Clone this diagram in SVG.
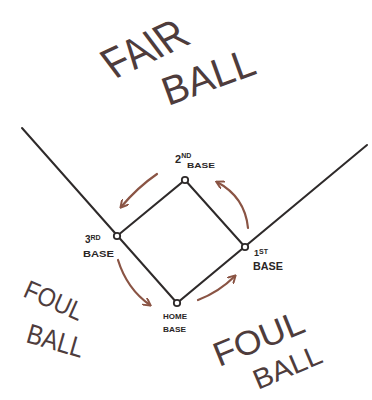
<svg xmlns="http://www.w3.org/2000/svg" width="372" height="400" viewBox="0 0 372 400">
<style>
.line{stroke:#2e2a2a;stroke-width:2;fill:none;stroke-linecap:round}
.arr{stroke:#8a5444;stroke-width:2.2;fill:none;stroke-linecap:round}
.base{fill:#fff;stroke:#2e2a2a;stroke-width:1.8}
.big{font-family:"Liberation Sans",Arial,sans-serif;fill:#4e3c3c}
.lab{font-family:"Liberation Sans",Arial,sans-serif;font-weight:bold;fill:#2a2626}
</style>
<defs>
<marker id="ah" viewBox="0 0 10 10" refX="8" refY="5" markerWidth="4" markerHeight="4" orient="auto" markerUnits="strokeWidth">
<path d="M0,0 L9,5 L0,10" fill="none" stroke="#8a5444" stroke-width="2.2"/>
</marker>
</defs>
<rect width="372" height="400" fill="#fff"/>
<g id="field-labels">
<text class="big" font-size="44" textLength="86" lengthAdjust="spacingAndGlyphs" transform="translate(115,79) rotate(-25) skewX(12)">FAIR</text>
<text class="big" font-size="40" textLength="96" lengthAdjust="spacingAndGlyphs" transform="translate(168,106) rotate(-20)">BALL</text>
<text class="big" font-size="26" textLength="62" lengthAdjust="spacingAndGlyphs" transform="translate(22,296) rotate(24)">FOUL</text>
<text class="big" font-size="28" textLength="58" lengthAdjust="spacingAndGlyphs" transform="translate(25,342) rotate(16)">BALL</text>
<text class="big" font-size="34" textLength="95" lengthAdjust="spacingAndGlyphs" transform="translate(219,367) rotate(-22)">FOUL</text>
<text class="big" font-size="28" textLength="72" lengthAdjust="spacingAndGlyphs" transform="translate(258,390) rotate(-23)">BALL</text>
</g>
<g id="connectors">
<path class="line" d="M22,128 L177,303 L367,145"/>
<path class="line" d="M117,236 L185,180 L245,247"/>
<path class="arr" marker-end="url(#ah)" d="M157,174 Q138,187 121,207"/>
<path class="arr" marker-end="url(#ah)" d="M118,260 Q127,289 150,305"/>
<path class="arr" marker-end="url(#ah)" d="M198,300 Q219,292 235,276"/>
<path class="arr" marker-end="url(#ah)" d="M248,228 Q245,197 217,182"/>
</g>
<g id="second-base">
<circle class="base" cx="185" cy="180" r="3.2"/>
<text class="lab" x="175" y="163" font-size="11">2<tspan font-size="7" dy="-5">ND</tspan></text>
<text class="lab" x="187" y="168" font-size="8" textLength="28" lengthAdjust="spacingAndGlyphs">BASE</text>
</g>
<g id="third-base">
<circle class="base" cx="117" cy="236" r="3.2"/>
<text class="lab" x="85" y="243" font-size="10">3<tspan font-size="7" dy="-3">RD</tspan></text>
<text class="lab" x="83" y="257" font-size="9" textLength="31" lengthAdjust="spacingAndGlyphs">BASE</text>
</g>
<g id="first-base">
<circle class="base" cx="245" cy="247" r="3.2"/>
<text class="lab" x="254" y="256" font-size="9">1<tspan font-size="7" dy="-2">ST</tspan></text>
<text class="lab" x="253" y="270" font-size="10" textLength="30" lengthAdjust="spacingAndGlyphs">BASE</text>
</g>
<g id="home-base">
<circle class="base" cx="177" cy="303" r="3.2"/>
<text class="lab" x="163" y="319" font-size="7" textLength="24" lengthAdjust="spacingAndGlyphs">HOME</text>
<text class="lab" x="163" y="332" font-size="8" textLength="23" lengthAdjust="spacingAndGlyphs">BASE</text>
</g>
</svg>
